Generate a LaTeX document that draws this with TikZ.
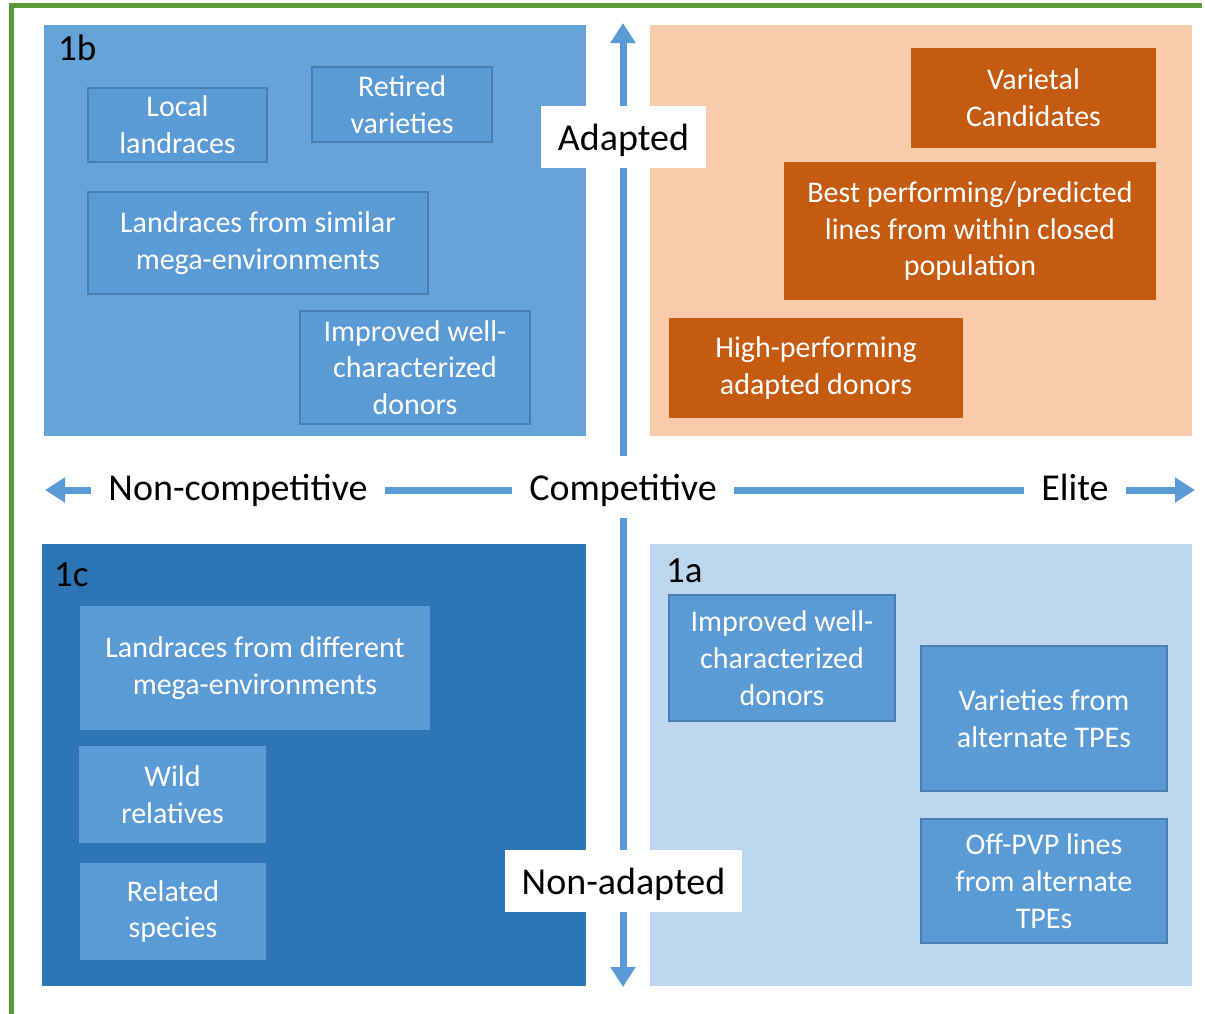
\documentclass[tikz,border=0pt]{standalone}
\usepackage{fontspec}
\setmainfont{Carlito}
\usetikzlibrary{arrows.meta}

\definecolor{frameGreen}{HTML}{5A9A38}
\definecolor{quadB}{HTML}{66A3D9}
\definecolor{quadC}{HTML}{2E75B6}
\definecolor{quadA}{HTML}{BDD7EE}
\definecolor{quadElite}{HTML}{F8CBAD}
\definecolor{itemBlue}{HTML}{5B9BD5}
\definecolor{itemEdge}{HTML}{4A7DB0}
\definecolor{itemOrange}{HTML}{C55A11}
\definecolor{axisBlue}{HTML}{5B9BD5}

\begin{document}
\begin{tikzpicture}[x=1pt,y=-1pt,
  itembox/.style={fill=itemBlue, text=white, align=center, inner sep=0pt,
    font=\fontsize{30}{36.7}\selectfont},
  edged/.style={draw=itemEdge, line width=1.2pt},
  orangebox/.style={itembox, fill=itemOrange, text=white},
  quadlabel/.style={inner sep=0pt, anchor=base west, font=\fontsize{37}{44}\selectfont},
  axislabel/.style={fill=white, inner xsep=17pt, inner ysep=0pt, anchor=base,
    text height=44pt, text depth=18pt, font=\fontsize{38}{44}\selectfont},
  axisarrow/.style={draw=axisBlue, line width=7pt,
    {Triangle[width=24pt,length=20pt]}-{Triangle[width=24pt,length=20pt]}}
]
\useasboundingbox (0,0) rectangle (1205,1013);
\fill[white] (0,0) rectangle (1205,1013);

% outer frame (open at right and bottom)
\draw[frameGreen, line width=4.5pt] (11.5,1020) -- (11.5,5.5) -- (1202,5.5);

% quadrant panels
\fill[quadB]     (44,25)   rectangle (586,436);
\fill[quadElite] (650,25)  rectangle (1192,436);
\fill[quadC]     (42,544)  rectangle (586,986);
\fill[quadA]     (650,544) rectangle (1192,986);

% quadrant tags
\node[quadlabel] (tag1b) at (58,60)  {1b};
\node[quadlabel] (tag1c) at (54,586) {1c};
\node[quadlabel] (tag1a) at (666,582) {1a};

% 1b items
\node[itembox, edged, minimum width=179pt, minimum height=74pt] (local) at (177.5,125) {Local\\landraces};
\node[itembox, edged, minimum width=180pt, minimum height=75pt] (retired) at (402,104.5) {Retired\\varieties};
\node[itembox, edged, minimum width=340pt, minimum height=102pt] (similar) at (258,243) {Landraces from similar\\mega-environments};
\node[itembox, edged, minimum width=230pt, minimum height=113pt] (improvedB) at (415,367.5) {Improved well-\\characterized\\donors};

% elite items
\node[orangebox, minimum width=245pt, minimum height=100pt] (candidates) at (1033.5,98) {Varietal\\Candidates};
\node[orangebox, minimum width=372pt, minimum height=138pt] (best) at (970,231) {Best performing/predicted\\lines from within closed\\population};
\node[orangebox, minimum width=294pt, minimum height=100pt] (highperf) at (816,368) {High-performing\\adapted donors};

% 1c items
\node[itembox, minimum width=350pt, minimum height=124pt] (different) at (255,668) {Landraces from different\\mega-environments};
\node[itembox, minimum width=187pt, minimum height=97pt] (wild) at (172.5,794.5) {Wild\\relatives};
\node[itembox, minimum width=186pt, minimum height=97pt] (related) at (173,911.5) {Related\\species};

% 1a items
\node[itembox, edged, minimum width=226pt, minimum height=126pt] (improvedA) at (782,658) {Improved well-\\characterized\\donors};
\node[itembox, edged, minimum width=246pt, minimum height=145pt] (alternate) at (1044,718.5) {Varieties from\\alternate TPEs};
\node[itembox, edged, minimum width=246pt, minimum height=124pt] (offpvp) at (1044,881) {Off-PVP lines\\from alternate\\TPEs};

% axes
\coordinate (axisTop)    at (623,23);
\coordinate (axisBottom) at (623,987);
\coordinate (axisLeft)   at (45,490);
\coordinate (axisRight)  at (1195,490);
\draw[axisarrow] (axisBottom) -- (axisTop);
\draw[axisarrow] (axisLeft) -- (axisRight);

% axis captions
\node[axislabel] (adapted)    at (623.5,150) {Adapted};
\node[axislabel] (nonadapted) at (623.5,894) {Non-adapted};
\node[axislabel] (noncomp)    at (238,500)   {Non-competitive};
\node[axislabel] (comp)       at (623,500)   {Competitive};
\node[axislabel] (elite)      at (1075,500)  {Elite};
\end{tikzpicture}
\end{document}
